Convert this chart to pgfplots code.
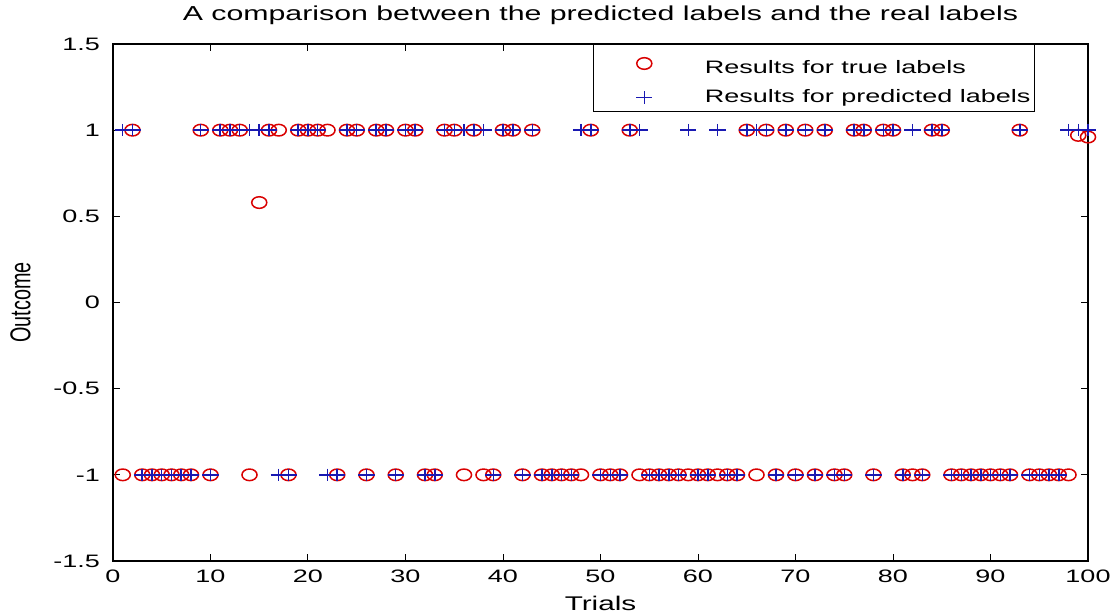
\documentclass[border=0pt]{standalone}
\usepackage{fontspec}
\setmainfont{Liberation Sans}[FakeStretch=1.5]
\newfontfamily\plainfont{Liberation Sans}
\usepackage{pgfplots}
\pgfplotsset{compat=1.18}
\usepackage{pgfplotstable}
\definecolor{mred}{rgb}{0.85,0,0}
\definecolor{mblue}{rgb}{0.1,0.1,0.7}
\pgfplotstableread{
x c p
1 -1 1
2 1 1
3 -1 -1
4 -1 -1
5 -1 -1
6 -1 -1
7 -1 -1
8 -1 -1
9 1 1
10 -1 -1
11 1 1
12 1 1
13 1 1
14 -1 1
15 0.58 1
16 1 1
17 1 -1
18 -1 -1
19 1 1
20 1 1
21 1 1
22 1 -1
23 -1 -1
24 1 1
25 1 1
26 -1 -1
27 1 1
28 1 1
29 -1 -1
30 1 1
31 1 1
32 -1 -1
33 -1 -1
34 1 1
35 1 1
36 -1 1
37 1 1
38 -1 1
39 -1 -1
40 1 1
41 1 1
42 -1 -1
43 1 1
44 -1 -1
45 -1 -1
46 -1 -1
47 -1 -1
48 -1 1
49 1 1
50 -1 -1
51 -1 -1
52 -1 -1
53 1 1
54 -1 1
55 -1 -1
56 -1 -1
57 -1 -1
58 -1 -1
59 -1 1
60 -1 -1
61 -1 -1
62 -1 1
63 -1 -1
64 -1 -1
65 1 1
66 -1 1
67 1 1
68 -1 -1
69 1 1
70 -1 -1
71 1 1
72 -1 -1
73 1 1
74 -1 -1
75 -1 -1
76 1 1
77 1 1
78 -1 -1
79 1 1
80 1 1
81 -1 -1
82 -1 1
83 -1 -1
84 1 1
85 1 1
86 -1 -1
87 -1 -1
88 -1 -1
89 -1 -1
90 -1 -1
91 -1 -1
92 -1 -1
93 1 1
94 -1 -1
95 -1 -1
96 -1 -1
97 -1 -1
98 -1 1
99 0.97 1
100 0.96 1
}\datatable
\begin{document}
\begin{tikzpicture}
\begin{axis}[
  at={(0,0)}, anchor=south west,
  scale only axis,
  width=487.5pt, height=258.5pt,
  xmin=0, xmax=100, ymin=-1.5, ymax=1.5,
  xtick={0,10,...,100},
  ytick={-1.5,-1,-0.5,0,0.5,1,1.5},
  yticklabels={-1.5,-1,-0.5,0,0.5,1,1.5},
  tick align=inside,
  major tick length=3.5pt,
  axis line style={line width=0.6pt},
  tick style={line width=0.5pt, black},
  font=\fontsize{9}{11}\selectfont,
  /pgf/number format/assume math mode=true,
  ticklabel style={font=\fontsize{9}{11}\selectfont},
  xticklabel style={yshift=-1pt},
  yticklabel style={xshift=-3pt},
  title={A comparison between the predicted labels and the real labels},
  title style={font=\fontsize{10.1}{12}\selectfont, yshift=0pt},
  xlabel={Trials},
  xlabel style={font=\fontsize{9.9}{12}\selectfont, yshift=0pt},
  ylabel={\plainfont\scalebox{1}[1.45]{Outcome}},
  ylabel style={font=\fontsize{9.9}{12}\selectfont, yshift=4.5pt},
  legend style={at={(rel axis cs:0.9456,1)}, anchor=north east,
    draw=black, line width=0.5pt, font=\fontsize{9}{11}\selectfont,
    inner xsep=0pt, inner ysep=1pt, row sep=2.5pt,
    nodes={inner xsep=2pt}},
  legend image code/.code={%
    \path (-25pt,0) (28pt,0);
    \draw[#1] plot coordinates {(0pt,0pt)};},
  legend cell align=left,
]
\addplot[only marks, mark=o, mred, mark size=2.9pt, mark options={xscale=1.3, line width=0.75pt}] table[x=x, y=c] {\datatable};
\addlegendentry{\rule{0pt}{11.5pt}Results for true labels}
\addplot[only marks, mark=+, mblue, mark size=3.1pt, mark options={xscale=1.3, line width=0.75pt}] table[x=x, y=p] {\datatable};
\addlegendentry{Results for predicted labels}
\end{axis}
\pgfresetboundingbox
\path (-56.5pt,-27pt) rectangle (501pt,280.5pt);
\end{tikzpicture}
\end{document}
